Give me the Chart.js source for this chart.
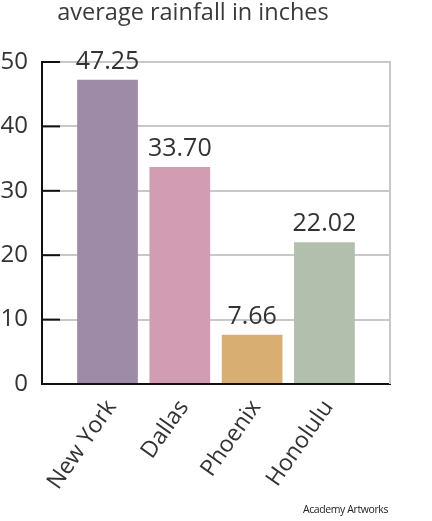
<!DOCTYPE html>
<html><head><meta charset="utf-8">
<script src="https://cdn.jsdelivr.net/npm/chart.js@4.4.1/dist/chart.umd.min.js"></script>
<style>
html,body{margin:0;padding:0;background:#fff;width:432px;height:521px;overflow:hidden;}
#wrap{position:relative;width:432px;height:521px;}
#title{position:absolute;left:0;top:-5px;width:386px;text-align:center;font-family:"Open Sans",sans-serif;font-size:23.5px;color:#3a3a3a;}
#credit{position:absolute;right:44px;top:502px;font-family:"Open Sans",sans-serif;font-size:10.5px;color:#222;letter-spacing:-0.4px;}
canvas{position:absolute;left:0;top:0;}
</style></head>
<body><div id="wrap">
<canvas id="c" width="432" height="521"></canvas>
<div id="title">average rainfall in inches</div>
<div id="credit">Academy Artworks</div>
</div>
<script>
const cities = ["New York", "Dallas", "Phoenix", "Honolulu"];
const rainfall = [47.25, 33.70, 7.66, 22.02];
const valueLabels = ["47.25", "33.70", "7.66", "22.02"];
const barColors = ["#9d8ba7", "#d29cb2", "#d9ae72", "#b3bfad"];
const yTicks = [0, 10, 20, 30, 40, 50];
const positions = cities.map((_, i) => i);

const FONT = '"Open Sans", sans-serif';

const overlay = {
  id: 'overlay',
  afterDraw(chart) {
    const ctx = chart.ctx;
    const ca = chart.chartArea;
    const y = chart.scales.y;
    ctx.save();
    ctx.strokeStyle = '#c8c8c8';
    ctx.lineWidth = 2;
    ctx.beginPath();
    ctx.moveTo(ca.right, ca.top - 1); ctx.lineTo(ca.right, ca.bottom);
    ctx.stroke();
    ctx.strokeStyle = '#111';
    ctx.lineWidth = 2;
    yTicks.forEach(v => {
      if (v === 0) return;
      const py = y.getPixelForValue(v);
      ctx.beginPath();
      ctx.moveTo(ca.left, py); ctx.lineTo(ca.left + 18, py);
      ctx.stroke();
    });
    ctx.fillStyle = '#333';
    ctx.font = '25px ' + FONT;
    ctx.textAlign = 'center';
    ctx.textBaseline = 'middle';
    const meta = chart.getDatasetMeta(0);
    meta.data.forEach((bar, i) => {
      ctx.fillText(valueLabels[i], bar.x, bar.y - 18);
    });
    ctx.restore();
  }
};

new Chart(document.getElementById('c'), {
  type: 'bar',
  data: {
    datasets: [{
      data: positions.map((p, i) => ({x: p, y: rainfall[i]})),
      backgroundColor: barColors,
      borderWidth: 0,
      barPercentage: 0.84,
      categoryPercentage: 1.0
    }]
  },
  plugins: [overlay],
  options: {
    responsive: false,
    animation: false,
    devicePixelRatio: 1,
    layout: {padding: {top: 62, right: 42, left: 0, bottom: 0}},
    plugins: {legend: {display: false}, tooltip: {enabled: false}, title: {display: false}},
    scales: {
      x: {
        type: 'linear',
        offset: false,
        min: -0.906,
        max: 3.907,
        afterBuildTicks(scale) { scale.ticks = positions.map(v => ({value: v})); },
        afterFit(scale) { scale.height = 521 - 62 - 322; },
        grid: {display: false, drawTicks: false, offset: false},
        border: {display: true, color: '#111', width: 2},
        ticks: {
          autoSkip: false,
          minRotation: 55,
          maxRotation: 55,
          padding: 11,
          labelOffset: 4,
          color: '#333',
          font: {family: FONT, size: 23},
          callback: (v) => cities[v] ?? ''
        }
      },
      y: {
        min: 0,
        max: 50,
        afterBuildTicks(scale) { scale.ticks = yTicks.map(v => ({value: v})); },
        afterFit(scale) { scale.width = 42; },
        grid: {color: '#c8c8c8', lineWidth: 2, drawTicks: false},
        border: {display: true, color: '#111', width: 2},
        ticks: {
          padding: 14,
          color: '#333',
          font: {family: FONT, size: 24}
        }
      }
    }
  }
});
</script>
</body></html>
